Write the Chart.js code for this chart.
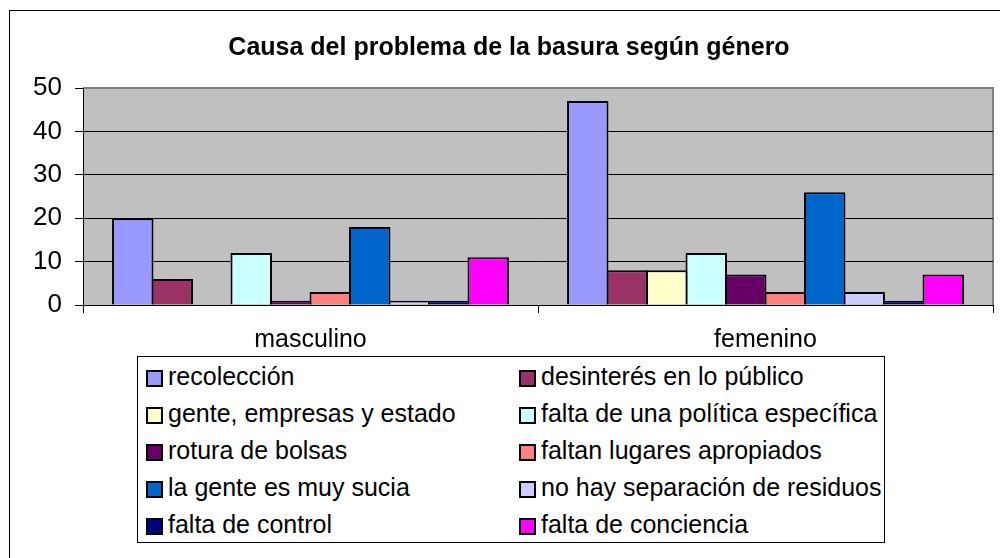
<!DOCTYPE html>
<html>
<head>
<meta charset="utf-8">
<script src="https://cdn.jsdelivr.net/npm/chart.js@4.4.1/dist/chart.umd.min.js"></script>
<style>
  html, body { margin: 0; padding: 0; background: #fff; overflow: hidden; }
  #wrap { position: relative; width: 1000px; height: 558px; }
  #frame { position: absolute; left: 9px; top: 10px; width: 1100px; height: 700px; border: 1px solid #000; box-sizing: border-box; }
  #title { position: absolute; left: 0; width: 1018px; top: 31px; text-align: center;
           font: bold 25px "Liberation Sans", Arial, sans-serif; color: #000; line-height: 30px; }
  #c { position: absolute; left: 0; top: 0; }
  #legend { position: absolute; left: 137px; top: 356px; width: 748px; height: 187px; border: 1px solid #000;
            box-sizing: border-box; background: #fff; }
  .item { position: absolute; height: 30px; line-height: 30px; font: 25px "Liberation Sans", Arial, sans-serif; color: #000; white-space: nowrap; }
  .sw { position: absolute; left: 0; top: 8px; width: 13px; height: 13px; border: 2px solid #000; box-sizing: content-box; }
  .tx { position: absolute; left: 22px; top: 0; }
</style>
</head>
<body>
<div id="wrap">
  <div id="frame"></div>
  <canvas id="c" width="1000" height="558"></canvas>
  <div id="title"></div>
  <div id="legend"></div>
</div>
<script>
const chartTitle = "Causa del problema de la basura según género";
const categories = ["masculino", "femenino"];
const seriesNames = [
  "recolección",
  "desinterés en lo público",
  "gente, empresas y estado",
  "falta de una política específica",
  "rotura de bolsas",
  "faltan lugares apropiados",
  "la gente es muy sucia",
  "no hay separación de residuos",
  "falta de control",
  "falta de conciencia"
];
const recoleccion   = [20, 47];
const desinteres    = [6, 8];
const genteEmpresas = [0, 8];
const faltaPolitica = [12, 12];
const roturaBolsas  = [1, 7];
const faltanLugares = [3, 3];
const genteSucia    = [18, 26];
const noSeparacion  = [1, 3];
const faltaControl  = [1, 1];
const faltaConciencia = [11, 7];
const seriesValues = [recoleccion, desinteres, genteEmpresas, faltaPolitica, roturaBolsas,
                      faltanLugares, genteSucia, noSeparacion, faltaControl, faltaConciencia];
const seriesColors = ["#9999FF", "#993366", "#FFFFCC", "#CCFFFF", "#660066",
                      "#FF8080", "#0066CC", "#CCCCFF", "#000080", "#FF00FF"];
const yTicks = [0, 10, 20, 30, 40, 50];

document.getElementById('title').textContent = chartTitle;

const FONT = "'Liberation Sans', Arial, sans-serif";

const plotBg = {
  id: 'plotBg',
  beforeDraw(chart) {
    const { ctx, chartArea: a } = chart;
    ctx.save();
    ctx.fillStyle = '#C0C0C0';
    ctx.fillRect(a.left, a.top, a.right - a.left, a.bottom - a.top);
    ctx.strokeStyle = '#808080';
    ctx.lineWidth = 2;
    ctx.beginPath();
    ctx.moveTo(a.left, a.top);
    ctx.lineTo(a.right, a.top);
    ctx.lineTo(a.right, a.bottom);
    ctx.stroke();
    ctx.restore();
  }
};

new Chart(document.getElementById('c'), {
  type: 'bar',
  data: {
    labels: categories,
    datasets: seriesNames.map((n, i) => ({
      label: n,
      data: seriesValues[i],
      backgroundColor: seriesColors[i],
      borderColor: '#000',
      borderWidth: 2,
      borderSkipped: 'start',
      categoryPercentage: 0.868,
      barPercentage: 1.05
    }))
  },
  options: {
    responsive: false,
    animation: false,
    layout: { padding: { left: 0, top: 88, right: 7, bottom: 193 } },
    plugins: {
      legend: { display: false },
      title: { display: false },
      tooltip: { enabled: false }
    },
    scales: {
      x: {
        offset: true,
        afterFit(s) { s.height = 60; },
        grid: { display: true, drawOnChartArea: false, drawTicks: true, tickLength: 8, color: '#000', offset: true },
        border: { display: true, color: '#000', width: 1 },
        ticks: { color: '#000', font: { family: FONT, size: 25 }, padding: 12, maxRotation: 0 }
      },
      y: {
        min: 0, max: 50,
        afterFit(s) { s.width = 83; },
        afterBuildTicks(s) { s.ticks = yTicks.map(v => ({ value: v })); },
        grid: {
          drawTicks: true, tickLength: 8,
          color: (c) => (c.tick && c.tick.value === 50) ? 'rgba(0,0,0,0)' : '#000',
          tickColor: '#000', lineWidth: 1
        },
        border: { display: true, color: '#000', width: 1 },
        ticks: { color: '#000', font: { family: FONT, size: 26 }, padding: 13, stepSize: 10 }
      }
    }
  },
  plugins: [plotBg]
});

// legend built from series arrays
const lg = document.getElementById('legend');
seriesNames.forEach((n, i) => {
  const col = i % 2, row = Math.floor(i / 2);
  const it = document.createElement('div');
  it.className = 'item';
  it.style.left = (8 + col * 373) + 'px';
  it.style.top = (5 + row * 37) + 'px';
  const sw = document.createElement('div');
  sw.className = 'sw';
  sw.style.background = seriesColors[i];
  const tx = document.createElement('span');
  tx.className = 'tx';
  tx.textContent = n;
  it.appendChild(sw); it.appendChild(tx);
  lg.appendChild(it);
});
</script>
</body>
</html>
